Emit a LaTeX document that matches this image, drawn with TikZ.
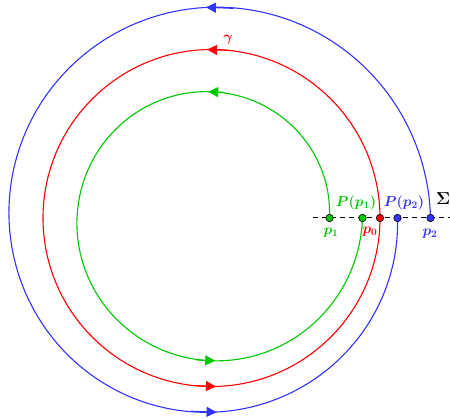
\documentclass[tikz,border=0pt]{standalone}
\usetikzlibrary{arrows.meta}
\definecolor{cg}{RGB}{0,200,0}
\definecolor{cr}{RGB}{255,0,0}
\definecolor{cb}{RGB}{51,51,255}
\begin{document}
\begin{tikzpicture}[x=1pt,y=-1pt,
  curve/.style={line width=1.1pt},
  tipstyle/.style={-{Triangle[length=10pt,width=10pt]}},
  dot/.style={circle,draw=black,line width=0.6pt,inner sep=0pt,minimum size=7.5pt},
  lab/.style={font=\boldmath\fontsize{14}{16}\selectfont,inner sep=1pt}]
\useasboundingbox (0,0) rectangle (450,419);
\def\cx{211.5}\def\cy{218}
% dashed section line
\coordinate (sl) at (313,218);
\coordinate (sr) at (450,218);
\draw[line width=1pt,dash pattern=on 5pt off 4pt] (sl) -- (sr);
% green spiral
\draw[cg,curve] plot[domain=0:360,samples=200,smooth]
  ({\cx+(118+33*\x/360)*cos(\x)},{\cy-(118+33*\x/360)*sin(\x)});
% red circle
\draw[cr,curve] (\cx,\cy) circle[radius=168.5];
% blue spiral
\draw[cb,curve] plot[domain=0:360,samples=200,smooth]
  ({\cx+(219-33*\x/360)*cos(\x)},{\cy-(219-33*\x/360)*sin(\x)});
% arrowheads
\foreach \c/\r/\s in {cg/126.3/142.8, cr/168.5/168.5, cb/210.8/194.3}{
  \draw[\c,curve,tipstyle] ({\cx+\r*cos(84)},{\cy-\r*sin(84)}) -- ({\cx+\r*cos(91.5)},{\cy-\r*sin(91.5)});
  \draw[\c,curve,tipstyle] ({\cx+\s*cos(264)},{\cy-\s*sin(264)}) -- ({\cx+\s*cos(271.5)},{\cy-\s*sin(271.5)});
}
% points
\node[dot,fill=cg] (p1) at (329.5,218) {};
\node[dot,fill=cg] (Pp1) at (362.5,218) {};
\node[dot,fill=cr] (p0) at (380,218) {};
\node[dot,fill=cb] (Pp2) at (397.5,218) {};
\node[dot,fill=cb] (p2) at (430.5,218) {};
% labels
\node[lab,text=cr] (gam) at (228,40) {$\gamma$};
\node[lab,text=cg] (lPp1) at (356,203) {$P(p_1)$};
\node[lab,text=cb] (lPp2) at (404,203) {$P(p_2)$};
\node[lab,text=black,anchor=base west,font=\boldmath\fontsize{16}{18}\selectfont] (sig) at (435,205) {$\Sigma$};
\node[lab,text=cg] (lp1) at (331,233) {$p_1$};
\node[lab,text=cr] (lp0) at (370,232) {$p_0$};
\node[lab,text=cb] (lp2) at (430,234) {$p_2$};
\end{tikzpicture}
\end{document}
